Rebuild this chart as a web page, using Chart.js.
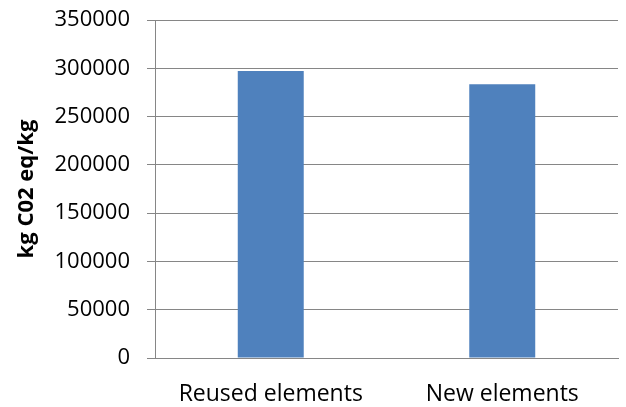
<!DOCTYPE html>
<html>
<head>
<meta charset="utf-8">
<script src="https://cdn.jsdelivr.net/npm/chart.js@4"></script>
<style>
  body { margin: 0; background: #fff; }
  #wrap { width: 626px; height: 407px; }
</style>
</head>
<body>
<div id="wrap"><canvas id="chart"></canvas></div>
<script>
const categories = ['Reused elements', 'New elements'];
const emissions = [297200, 283400];
const yTicks = [0, 50000, 100000, 150000, 200000, 250000, 300000, 350000];

const font = "Open Sans, Liberation Sans, sans-serif";

new Chart(document.getElementById('chart'), {
    type: 'bar',
    data: {
        labels: categories,
        datasets: [{
            label: 'kg C02 eq/kg',
            data: emissions,
            backgroundColor: '#4f81bd',
            borderWidth: 0,
            barPercentage: 0.285,
            categoryPercentage: 1
        }]
    },
    options: {
        responsive: true,
        maintainAspectRatio: false,
        animation: false,
        layout: { padding: { left: 0, right: 8, top: 20, bottom: 0 } },
        plugins: {
            legend: { display: false },
            tooltip: { enabled: false }
        },
        scales: {
            x: {
                afterFit: axis => { axis.height = 49; axis.paddingLeft = 0; axis.paddingRight = 0; },
                grid: { display: false },
                border: { color: '#868686', width: 1 },
                ticks: { color: '#000', font: { family: font, size: 23 }, padding: 15 }
            },
            y: {
                min: 0,
                max: 350000,
                afterFit: axis => { axis.width = 155; axis.paddingTop = 0; axis.paddingBottom = 0; },
                afterBuildTicks: axis => { axis.ticks = yTicks.map(v => ({ value: v })); },
                grid: { color: '#868686', tickLength: 8 },
                border: { color: '#868686', width: 1 },
                ticks: {
                    color: '#000',
                    font: { family: font, size: 22 },
                    padding: 17,
                    callback: v => String(v)
                },
                title: {
                    display: true,
                    text: 'kg C02 eq/kg',
                    color: '#000',
                    font: { family: font, size: 22, weight: 'bold' },
                    padding: { top: 14, bottom: 0 }
                }
            }
        }
    }
});
</script>
</body>
</html>
